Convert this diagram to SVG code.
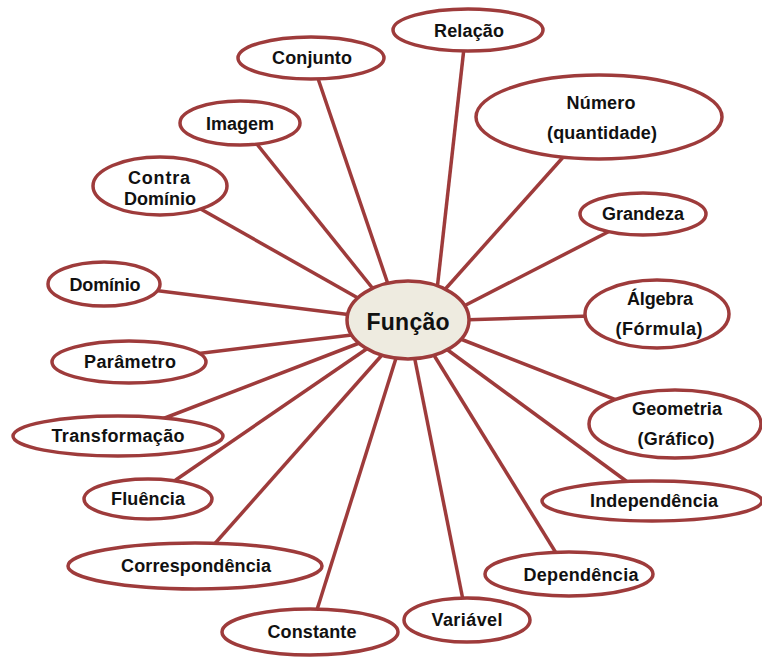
<svg xmlns="http://www.w3.org/2000/svg" width="762" height="657" viewBox="0 0 762 657">
<style>
.n ellipse{fill:#ffffff;stroke:#9E3B3B;stroke-width:3.5}
#c ellipse{fill:#EEEBE0}
text{font-family:"Liberation Sans",Arial,sans-serif;font-weight:bold;font-size:18px;fill:#111;text-anchor:middle}
#conn line{stroke:#9E3B3B;stroke-width:3.5}
</style>
<rect width="762" height="657" fill="#fff"/>
<g id="conn">
<line x1="437" y1="290" x2="466" y2="30"/>
<line x1="390" y1="290" x2="311" y2="58"/>
<line x1="440" y1="295" x2="599" y2="117"/>
<line x1="378" y1="295" x2="240" y2="123"/>
<line x1="365" y1="302" x2="160" y2="186"/>
<line x1="460" y1="308" x2="643" y2="214"/>
<line x1="360" y1="316" x2="104" y2="284"/>
<line x1="460" y1="320" x2="657" y2="314"/>
<line x1="360" y1="334" x2="129" y2="362"/>
<line x1="458" y1="338" x2="675" y2="423"/>
<line x1="362" y1="342" x2="118" y2="436"/>
<line x1="445" y1="348" x2="652" y2="500"/>
<line x1="368" y1="348" x2="148" y2="499"/>
<line x1="432" y1="352" x2="569" y2="574"/>
<line x1="382" y1="355" x2="195" y2="566"/>
<line x1="414" y1="355" x2="467" y2="620"/>
<line x1="397" y1="355" x2="310" y2="632"/>
</g>
<g id="c" class="n"><ellipse cx="408" cy="320" rx="61" ry="39"/><text x="408" y="330" style="font-size:23px" textLength="83">Função</text></g>
<g id="relacao" class="n"><ellipse cx="468" cy="30" rx="75" ry="21"/><text x="469" y="37" textLength="70">Relação</text></g>
<g id="conjunto" class="n"><ellipse cx="311" cy="58" rx="73" ry="21"/><text x="312" y="64" textLength="80">Conjunto</text></g>
<g id="numero" class="n"><ellipse cx="599" cy="117" rx="123" ry="42"/><text x="601" y="109" textLength="69">Número</text><text x="602" y="139" textLength="110">(quantidade)</text></g>
<g id="imagem" class="n"><ellipse cx="240" cy="123" rx="60" ry="22"/><text x="240" y="130" textLength="68">Imagem</text></g>
<g id="contradominio" class="n"><ellipse cx="160" cy="186" rx="67" ry="29"/><text x="159" y="184" textLength="62">Contra</text><text x="160" y="205" textLength="72">Domínio</text></g>
<g id="grandeza" class="n"><ellipse cx="643" cy="214" rx="63" ry="21"/><text x="643" y="220" textLength="82">Grandeza</text></g>
<g id="dominio" class="n"><ellipse cx="104" cy="284" rx="56" ry="22"/><text x="105" y="291" textLength="71">Domínio</text></g>
<g id="algebra" class="n"><ellipse cx="657" cy="314" rx="72" ry="34"/><text x="660" y="305" textLength="66">Álgebra</text><text x="659" y="335" textLength="87">(Fórmula)</text></g>
<g id="parametro" class="n"><ellipse cx="129" cy="362" rx="77" ry="21"/><text x="130" y="368" textLength="92">Parâmetro</text></g>
<g id="geometria" class="n"><ellipse cx="675" cy="424" rx="86" ry="34"/><text x="677" y="415" textLength="90">Geometria</text><text x="676" y="445" textLength="77">(Gráfico)</text></g>
<g id="transformacao" class="n"><ellipse cx="118" cy="436" rx="105" ry="20"/><text x="118" y="442" textLength="133">Transformação</text></g>
<g id="independencia" class="n"><ellipse cx="652" cy="501" rx="110" ry="20"/><text x="654" y="507" textLength="128">Independência</text></g>
<g id="fluencia" class="n"><ellipse cx="148" cy="499" rx="64" ry="20"/><text x="148" y="505" textLength="74">Fluência</text></g>
<g id="dependencia" class="n"><ellipse cx="569" cy="574" rx="84" ry="22"/><text x="581" y="581" textLength="115">Dependência</text></g>
<g id="correspondencia" class="n"><ellipse cx="195" cy="566" rx="127" ry="23"/><text x="196" y="572" textLength="150">Correspondência</text></g>
<g id="variavel" class="n"><ellipse cx="467" cy="620" rx="63" ry="22"/><text x="467" y="626" textLength="71">Variável</text></g>
<g id="constante" class="n"><ellipse cx="310" cy="632" rx="88" ry="23"/><text x="312" y="638" textLength="89">Constante</text></g>
</svg>
